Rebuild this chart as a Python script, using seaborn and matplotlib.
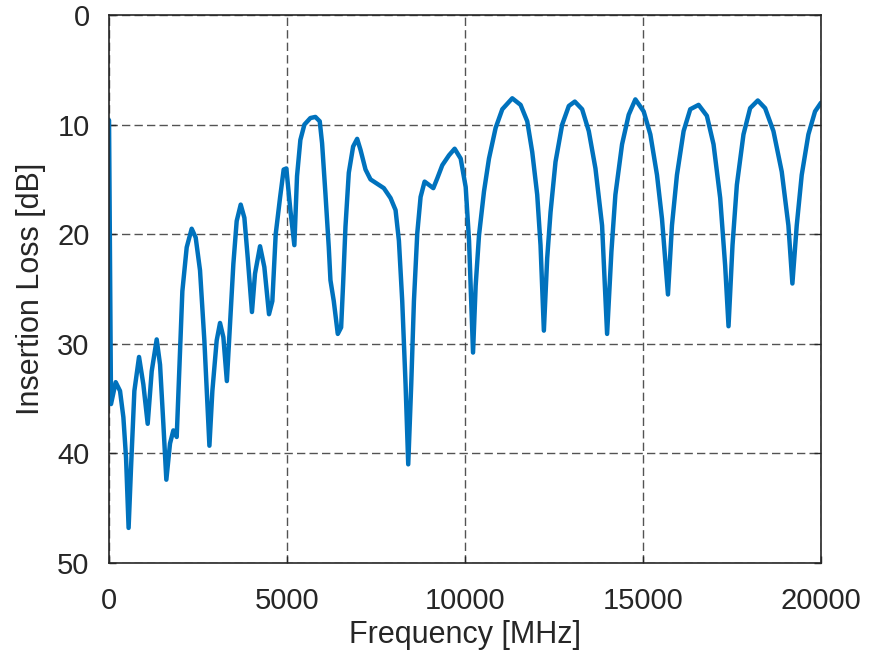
import matplotlib
matplotlib.use("Agg")
import matplotlib.pyplot as plt
import seaborn as sns
import pandas as pd

freq_mhz = [0, 56, 187, 309, 403, 478, 550, 618, 712, 843, 964, 1086, 1199, 1339, 1433, 1526,
            1610, 1713, 1807, 1901, 1966, 2060, 2182, 2322, 2434, 2556, 2678, 2820, 2903, 3024,
            3118, 3212, 3310, 3399, 3493, 3586, 3699, 3802, 3895, 4015, 4101, 4242, 4363, 4494,
            4588, 4682, 4803, 4906, 4981, 5094, 5206, 5281, 5375, 5488, 5657, 5797, 5919, 5985,
            6079, 6173, 6220, 6313, 6426, 6520, 6576, 6642, 6735, 6857, 6970, 7064, 7205, 7345,
            7533, 7720, 7908, 8049, 8143, 8236, 8330, 8405, 8489, 8565, 8659, 8752, 8865, 8987,
            9109, 9221, 9362, 9550, 9709, 9878, 10019, 10113, 10225, 10299, 10393, 10533, 10673,
            10860, 11047, 11327, 11561, 11748, 11888, 12028, 12121, 12215, 12308, 12402, 12542,
            12729, 12916, 13084, 13290, 13477, 13664, 13850, 13991, 14112, 14224, 14411, 14598,
            14785, 15019, 15206, 15393, 15533, 15701, 15813, 15953, 16140, 16327, 16561, 16794,
            16981, 17168, 17308, 17402, 17514, 17636, 17822, 18009, 18224, 18430, 18664, 18897,
            19084, 19196, 19318, 19458, 19645, 19832, 20000]
insertion_loss_db = [9.6, 35.5, 33.5, 34.3, 36.7, 40.4, 46.8, 41.3, 34.3, 31.2, 33.7, 37.3, 32.5, 29.6, 31.9, 37.3,
                     42.4, 39.1, 37.9, 38.5, 33.1, 25.2, 21.2, 19.5, 20.3, 23.3, 29.7, 39.3, 34.3, 29.7,
                     28.1, 29.4, 33.4, 28.2, 22.7, 18.8, 17.3, 18.5, 22.1, 27.1, 23.6, 21.1, 23.0, 27.3,
                     26.1, 20.0, 16.7, 14.1, 14.0, 17.8, 21.0, 14.7, 11.4, 10.0, 9.4, 9.3, 9.7, 11.7,
                     16.3, 21.2, 24.2, 26.1, 29.1, 28.5, 24.5, 19.3, 14.4, 12.0, 11.3, 12.3, 14.1, 15.0,
                     15.4, 15.8, 16.7, 17.8, 20.6, 26.1, 33.7, 41.0, 33.7, 26.1, 19.9, 16.6, 15.2, 15.5,
                     15.8, 14.9, 13.7, 12.8, 12.2, 13.1, 15.7, 20.6, 30.8, 24.7, 20.1, 16.1, 13.1,
                     10.3, 8.6, 7.6, 8.2, 9.7, 12.5, 16.4, 21.0, 28.8, 22.2, 18.0, 13.4,
                     10.0, 8.3, 7.9, 8.6, 10.6, 14.0, 19.2, 29.1, 21.6, 16.4, 11.8, 9.1,
                     7.7, 8.8, 10.9, 14.6, 18.6, 25.5, 19.2, 14.6, 10.6, 8.6, 8.2, 9.2,
                     11.8, 16.7, 22.9, 28.4, 21.0, 15.5, 10.9, 8.5, 7.8, 8.5, 10.6, 14.3,
                     19.2, 24.5, 19.2, 14.6, 10.9, 8.8, 8.0]

x_ticks = [0, 5000, 10000, 15000, 20000]
y_ticks = [0, 10, 20, 30, 40, 50]

sns.set_style("white")
plt.rcParams['font.family'] = ['Liberation Sans', 'DejaVu Sans']

df = pd.DataFrame({"Frequency": freq_mhz, "IL": insertion_loss_db})

fig = plt.figure(figsize=(8.75, 6.52), dpi=100)
ax = fig.add_axes([0.1246, 0.1365, 0.8137, 0.8405])
sns.lineplot(data=df, x="Frequency", y="IL", ax=ax, color="#0072BD", linewidth=3.2, sort=False)
for ln in ax.get_lines():
    ln.set_solid_joinstyle("round")
    ln.set_solid_capstyle("round")

ax.set_xlim(0, 20000)
ax.set_ylim(50, 0)
ax.set_xticks(x_ticks)
ax.set_yticks(y_ticks)
ax.set_xticklabels([str(t) for t in x_ticks])
ax.set_yticklabels([str(t) for t in y_ticks])
ax.grid(True, linestyle=(0, (6, 3)), color="#404040", linewidth=1.0, alpha=0.9)
ax.set_axisbelow(True)
for s in ax.spines.values():
    s.set_color("#262626")
    s.set_linewidth(1.2)
ax.tick_params(direction="in", length=5, width=1, colors="#262626", labelsize=21,
               top=False, right=True, left=True, bottom=True)
ax.tick_params(axis="x", pad=17)
ax.tick_params(axis="y", pad=14)
ax.set_xlabel("Frequency [MHz]", fontsize=22, color="#262626", labelpad=4)
ax.set_ylabel("Insertion Loss [dB]", fontsize=22, color="#262626", labelpad=8)

fig.savefig("out.png", dpi=100)
